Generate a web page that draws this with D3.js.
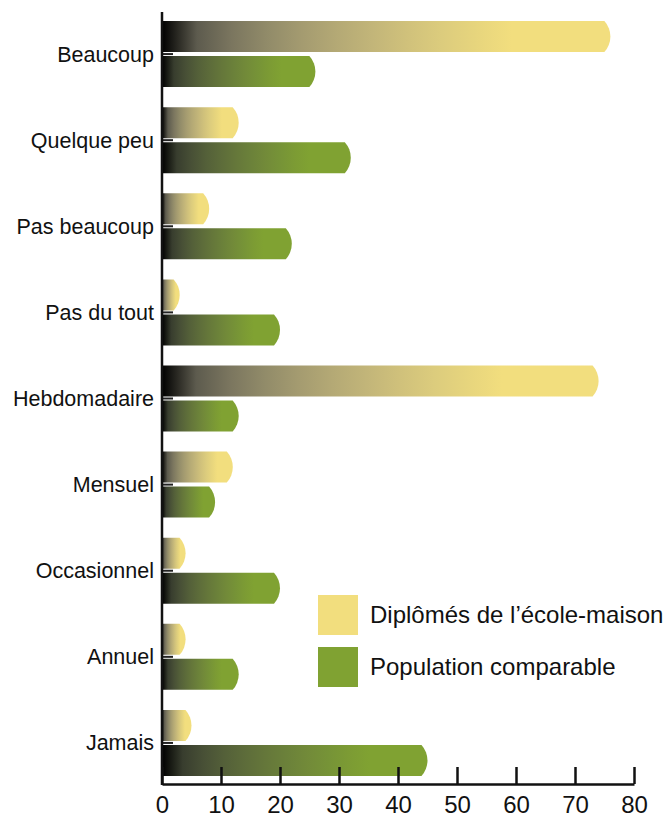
<!DOCTYPE html>
<html>
<head>
<meta charset="utf-8">
<script src="https://cdn.jsdelivr.net/npm/d3@7"></script>
<style>
  body { margin: 0; background: #fff; }
  text { font-family: "Liberation Sans", Arial, Helvetica, sans-serif; fill: #111; }
</style>
</head>
<body>
<script>
// data
var categories = ["Beaucoup", "Quelque peu", "Pas beaucoup", "Pas du tout",
                  "Hebdomadaire", "Mensuel", "Occasionnel", "Annuel", "Jamais"];
var diplomes   = [76, 13, 8, 3, 74, 12, 4, 4, 5];
var comparable = [26, 32, 22, 20, 13, 9, 20, 13, 45];
var seriesNames = ["Diplômés de l’école-maison", "Population comparable"];
var seriesColors = ["#f2de7e", "#80a232"];
var xTicks = [0, 10, 20, 30, 40, 50, 60, 70, 80];

var width = 666,
    height = 818;

var svg = d3.select("body").append("svg")
    .attr("width", width)
    .attr("height", height);

var x = d3.scaleLinear().domain([0, 80]).range([162, 634]);
var y = d3.scaleBand().domain(categories).range([11, 786]);
// two bars in each band
var y1 = d3.scaleBand().domain([0, 1]).range([0, 66]).paddingInner(0.114);

// gradients: black on the left, going through greyish tones into the colour
var defs = svg.append("defs");
seriesColors.forEach(function(c, i) {
    var g = defs.append("linearGradient")
        .attr("id", "grad" + i)
        .attr("x1", 0).attr("x2", 1).attr("y1", 0).attr("y2", 0);
    var toColor = d3.interpolateRgb.gamma(2.6)("#000", c);
    d3.range(0, 1.01, 0.1).forEach(function(t) {
        var base = d3.rgb(toColor(t)),
            grey = 0.3 * base.r + 0.59 * base.g + 0.11 * base.b,
            mixed = d3.interpolateRgb(d3.rgb(grey, grey, grey), base)(Math.sqrt(t));
        g.append("stop").attr("offset", t * 0.78).attr("stop-color", mixed);
    });
    g.append("stop").attr("offset", 1).attr("stop-color", c);
});

// small ticks on the y axis, pointing right
svg.append("g")
    .selectAll("line")
    .data(categories)
    .enter().append("line")
    .attr("x1", x(0)).attr("x2", x(0) + 11)
    .attr("y1", function(d) { return y(d) + y.bandwidth() / 2; })
    .attr("y2", function(d) { return y(d) + y.bandwidth() / 2; })
    .style("stroke", "#222")
    .style("stroke-width", 2);

// bar with a rounded right end
function barPath(x0, xe, y0, h) {
    var s = Math.min(6, (xe - x0) / 2),
        r = (h * h / 4 + s * s) / (2 * s);
    return "M" + x0 + "," + y0 +
        "H" + (xe - s) +
        "A" + r + "," + r + " 0 0,1 " + (xe - s) + "," + (y0 + h) +
        "H" + x0 + "Z";
}

var rows = categories.map(function(c, i) {
    return {cat: c, values: [diplomes[i], comparable[i]]};
});

var group = svg.append("g")
    .selectAll("g")
    .data(rows)
    .enter().append("g")
    .attr("transform", function(d) {
        return "translate(0," + (y(d.cat) + y.bandwidth() / 2 - 33) + ")";
    });

group.selectAll("path")
    .data(function(d) { return d.values; })
    .enter().append("path")
    .attr("d", function(v, i) {
        return barPath(x(0), x(v), y1(i), y1.bandwidth());
    })
    .style("fill", function(v, i) { return "url(#grad" + i + ")"; });

// category labels
svg.append("g")
    .selectAll("text")
    .data(categories)
    .enter().append("text")
    .attr("x", 154)
    .attr("y", function(d) { return y(d) + y.bandwidth() / 2; })
    .attr("dy", "0.35em")
    .attr("text-anchor", "end")
    .style("font-size", "21.5px")
    .text(function(d) { return d; });

// y axis line
svg.append("line")
    .attr("x1", x(0)).attr("x2", x(0))
    .attr("y1", 12).attr("y2", 785)
    .style("stroke", "#111")
    .style("stroke-width", 2.5);

// x axis with ticks pointing up
var xAxis = svg.append("g")
    .attr("transform", "translate(0,784)")
    .call(d3.axisBottom(x).tickValues(xTicks).tickSizeInner(-17).tickSizeOuter(0).tickPadding(12));
xAxis.select(".domain").style("stroke", "#111").style("stroke-width", 2.5);
xAxis.selectAll(".tick line").style("stroke", "#111").style("stroke-width", 2.5);
xAxis.selectAll(".tick text")
    .style("font-size", "24px")
    .style("font-family", "'Liberation Sans', Arial, sans-serif")
    .attr("fill", "#111");

// legend
var legend = svg.append("g")
    .selectAll("g")
    .data(seriesNames)
    .enter().append("g")
    .attr("transform", function(d, i) { return "translate(318," + (595 + i * 52) + ")"; });

legend.append("rect")
    .attr("width", 40)
    .attr("height", 40)
    .style("fill", function(d, i) { return seriesColors[i]; });

legend.append("text")
    .attr("x", 52)
    .attr("y", 20)
    .attr("dy", "0.35em")
    .style("font-size", "24px")
    .text(function(d) { return d; });
</script>
</body>
</html>
